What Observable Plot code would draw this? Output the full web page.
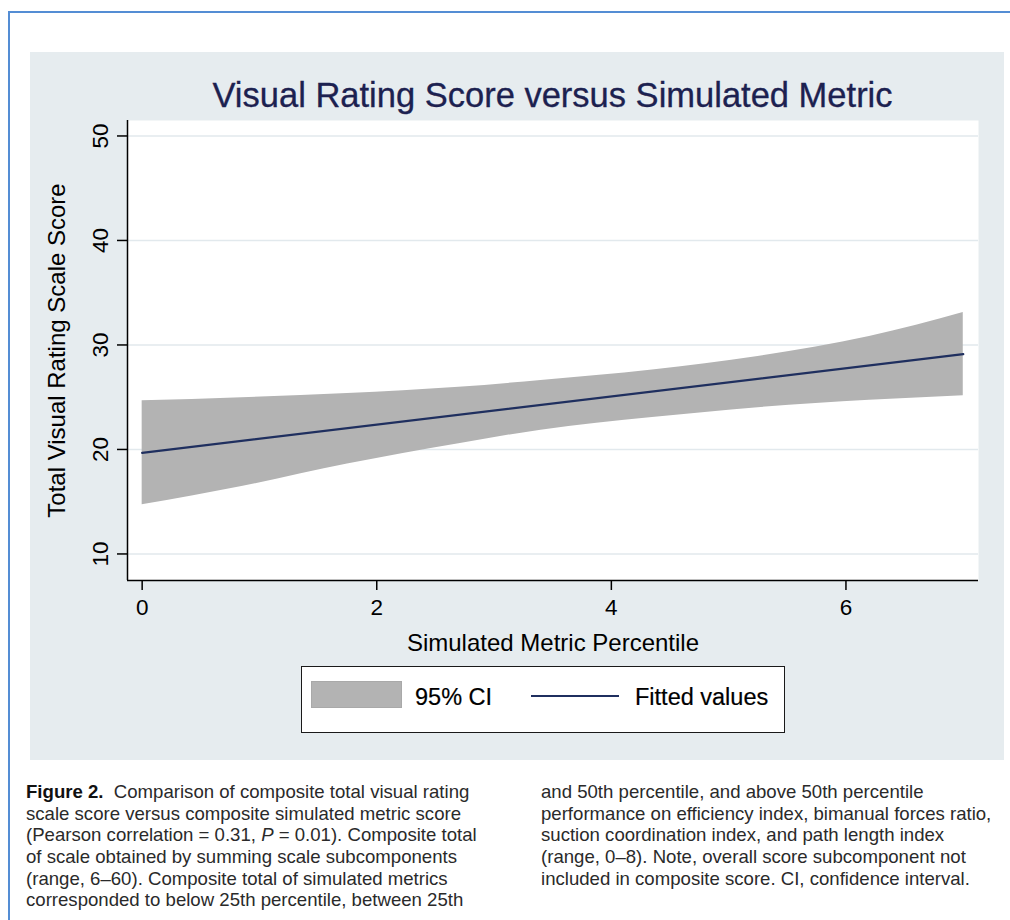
<!DOCTYPE html>
<html>
<head>
<meta charset="utf-8">
<script src="https://cdn.jsdelivr.net/npm/d3@7"></script>
<script src="https://cdn.jsdelivr.net/npm/@observablehq/plot@0.6"></script>
<style>
  html, body { margin: 0; padding: 0; }
  body { width: 1010px; height: 920px; position: relative; overflow: hidden; background: #ffffff;
         font-family: "Liberation Sans", Arial, Helvetica, sans-serif; }
  .abs { position: absolute; white-space: nowrap; }
  #frameTop { left: 8px; top: 11px; width: 1002px; height: 2px; background: #548dd4; }
  #frameLeft { left: 8px; top: 11px; width: 2px; height: 909px; background: #548dd4; }
  #panel { left: 30px; top: 52px; width: 974px; height: 708px; background: #e6ecef; }
  #title { left: 127px; width: 851px; top: 76px; text-align: center; font-size: 34.5px; color: #1c2150; line-height: normal; -webkit-text-stroke: 0.3px #1c2150; }
  #chart { left: 30px; top: 52px; }
  #legend { left: 301px; top: 666px; width: 482px; height: 65px; background: #ffffff; border: 1.5px solid #1a1a1a; }
  #swatch { left: 311px; top: 681px; width: 89px; height: 25px; background: #b3b3b3; border: 1px solid #a9a9a9; }
  #keyline { left: 531px; top: 695px; width: 88px; height: 2px; background: #1f2f5f; }
  .legtext { font-size: 23.5px; color: #000; line-height: normal; -webkit-text-stroke: 0.2px #000; }
  .cap { font-size: 18.6px; color: #2a2a2a; line-height: normal; }
  .cap b { font-weight: bold; color: #111; }
  g[aria-label="x-axis label"] text, g[aria-label="y-axis label"] text { font-size: 24px; }
  g[aria-label="x-axis label"], g[aria-label="y-axis label"] { font-size: 24px; }
</style>
</head>
<body>
<div id="frameTop" class="abs"></div>
<div id="frameLeft" class="abs"></div>
<div id="panel" class="abs"></div>
<div id="title" class="abs">Visual Rating Score versus Simulated Metric</div>
<div id="chart" class="abs"></div>
<div id="legend" class="abs"></div>
<div id="swatch" class="abs"></div>
<div id="keyline" class="abs"></div>
<div id="legCI" class="abs legtext" style="left:415px; top:684px;"></div>
<div id="legFit" class="abs legtext" style="left:635px; top:684px;"></div>
<div id="caption"></div>
<script>
// ---- data ----
const xTicks = [0, 2, 4, 6];
const yTicks = [10, 20, 30, 40, 50];
const ciX    = [0, 0.85, 1.75, 2.7, 3.4, 4.35, 5.25, 6.2, 7];
const ciLow  = [14.7, 16.45, 18.6, 20.55, 21.85, 23.05, 24.0, 24.7, 25.15];
const ciHigh = [24.65, 24.95, 25.35, 25.95, 26.6, 27.6, 28.9, 30.8, 33.1];
const fitX   = [0, 7];
const fitY   = [19.67, 29.13];
const legendLabels = ["95% CI", "Fitted values"];
const captionLeft = [
  "<b>Figure 2.</b>&nbsp; Comparison of composite total visual rating",
  "scale score versus composite simulated metric score",
  "(Pearson correlation = 0.31, <i>P</i> = 0.01). Composite total",
  "of scale obtained by summing scale subcomponents",
  "(range, 6\u201360). Composite total of simulated metrics",
  "corresponded to below 25th percentile, between 25th"
];
const captionRight = [
  "and 50th percentile, and above 50th percentile",
  "performance on efficiency index, bimanual forces ratio,",
  "suction coordination index, and path length index",
  "(range, 0\u20138). Note, overall score subcomponent not",
  "included in composite score. CI, confidence interval."
];

const ci = ciX.map((x, i) => ({x, lo: ciLow[i], hi: ciHigh[i]}));
const fit = fitX.map((x, i) => ({x, y: fitY[i]}));
const xDomain = [-0.125, 7.13];
const yDomain = [7.46, 51.48];

const chart = Plot.plot({
  width: 974,
  height: 630,
  marginLeft: 97,
  marginRight: 26,
  marginTop: 68,
  marginBottom: 102,
  style: {background: "transparent", color: "#000", fontFamily: "'Liberation Sans', Arial, sans-serif"},
  x: {domain: xDomain},
  y: {domain: yDomain},
  marks: [
    Plot.frame({fill: "#ffffff", stroke: null}),
    Plot.ruleY(yTicks, {stroke: "#e2e9ed", strokeWidth: 1.6}),
    Plot.areaY(ci, {x: "x", y1: "lo", y2: "hi", fill: "#b3b3b3", curve: "monotone-x"}),
    Plot.line(fit, {x: "x", y: "y", stroke: "#1f2f5f", strokeWidth: 2.2}),
    Plot.ruleX([xDomain[0]], {stroke: "#000", strokeWidth: 1.5}),
    Plot.ruleY([yDomain[0]], {stroke: "#000", strokeWidth: 1.5}),
    Plot.axisX(xTicks, {tickSize: 10, tickPadding: 9, fontSize: 22.5, strokeWidth: 1.5, tickFormat: d => String(d),
      label: "Simulated Metric Percentile", labelAnchor: "center", labelArrow: "none", labelOffset: 70}),
    Plot.axisY(yTicks, {tickSize: 10, tickPadding: 10, tickRotate: -90, fontSize: 22.5, strokeWidth: 1.5, tickFormat: d => String(d),
      label: "Total Visual Rating Scale Score", labelAnchor: "center", labelArrow: "none", labelOffset: 80})
  ]
});
document.getElementById("chart").appendChild(chart);

document.getElementById("legCI").textContent = legendLabels[0];
document.getElementById("legFit").textContent = legendLabels[1];

const cap = document.getElementById("caption");
const base0 = 798, lh = 21.6, asc = 0.905 * 18.6;
captionLeft.forEach((t, i) => {
  const d = document.createElement("div");
  d.className = "abs cap";
  d.style.left = "26px";
  d.style.top = (base0 + i * lh - asc) + "px";
  d.innerHTML = t;
  cap.appendChild(d);
});
captionRight.forEach((t, i) => {
  const d = document.createElement("div");
  d.className = "abs cap";
  d.style.left = "541px";
  d.style.top = (base0 + i * lh - asc) + "px";
  d.innerHTML = t;
  cap.appendChild(d);
});
</script>
</body>
</html>
